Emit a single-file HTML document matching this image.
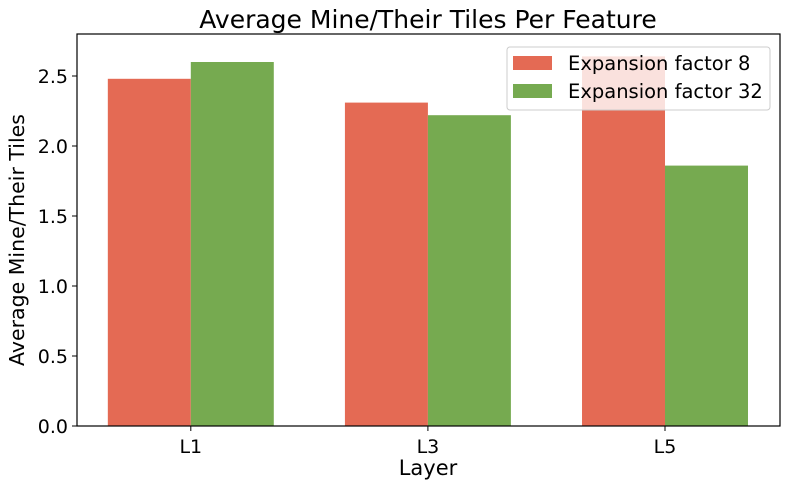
<!DOCTYPE html>
<html><head><meta charset="utf-8"><style>
body{margin:0;background:#fff;font-family:"DejaVu Sans","Liberation Sans",sans-serif}
</style></head><body>
<svg id="chart" width="790" height="490" xmlns="http://www.w3.org/2000/svg" font-family="DejaVu Sans, Liberation Sans, sans-serif"></svg>
<script>
const categories=["L1","L3","L5"];
const series8=[2.48,2.31,2.64];
const series32=[2.60,2.22,1.86];
const yTicks=[0,0.5,1.0,1.5,2.0,2.5];
const yTickLabels=["0.0","0.5","1.0","1.5","2.0","2.5"];
const L=77,R=780,T=34,B=426;
const x=i=>L+(i+0.48)/(2.965)*(R-L);
const y=v=>B-v*140;
const bw=0.35*(x(1)-x(0));
const svg=document.getElementById('chart');
const NS="http://www.w3.org/2000/svg";
function mk(tag,attrs,parent){const e=document.createElementNS(NS,tag);for(const k in attrs)e.setAttribute(k,attrs[k]);(parent||svg).appendChild(e);return e;}
categories.forEach((c,i)=>{
  let r=mk('rect',{x:x(i)-bw,y:y(series8[i]),width:bw,height:B-y(series8[i]),fill:'#e46a54'});
  
  
  let g=mk('rect',{x:x(i),y:y(series32[i]),width:bw,height:B-y(series32[i]),fill:'#76aa50'});
  
  
  mk('line',{x1:x(i),x2:x(i),y1:B,y2:B+5,stroke:'#000','stroke-width':1});
  let t=mk('text',{x:x(i),y:B+27,'text-anchor':'middle','font-size':19});
  t.textContent=c;
  
  
});
yTicks.forEach((v,i)=>{
  mk('line',{x1:L-5,x2:L,y1:y(v),y2:y(v),stroke:'#000','stroke-width':1});
  let t=mk('text',{x:L-9,y:y(v)+7,'text-anchor':'end','font-size':19});
  t.textContent=yTickLabels[i];
  
  
});
let f=mk('rect',{x:L,y:T,width:R-L,height:B-T,fill:'none',stroke:'#000','stroke-width':1.2});


let lg=mk('g',{});


mk('rect',{x:507,y:47,width:263,height:63,rx:3,fill:'rgba(255,255,255,0.8)',stroke:'#ccc'},lg);
mk('rect',{x:513,y:56,width:39,height:14,fill:'#e46a54'},lg);
mk('rect',{x:513,y:84,width:39,height:14,fill:'#76aa50'},lg);
let l1=mk('text',{x:568,y:70,'font-size':19.5},lg);l1.textContent="Expansion factor 8";


let l2=mk('text',{x:568,y:98,'font-size':19.5},lg);l2.textContent="Expansion factor 32";


let ti=mk('text',{x:428,y:28,'text-anchor':'middle','font-size':25});ti.textContent="Average Mine/Their Tiles Per Feature";


let xt=mk('text',{x:428,y:475,'text-anchor':'middle','font-size':21});xt.textContent="Layer";


let yt=mk('text',{x:24,y:240,'text-anchor':'middle','font-size':20.5,transform:'rotate(-90 24 240)'});yt.textContent="Average Mine/Their Tiles";


</script>
</body></html>
